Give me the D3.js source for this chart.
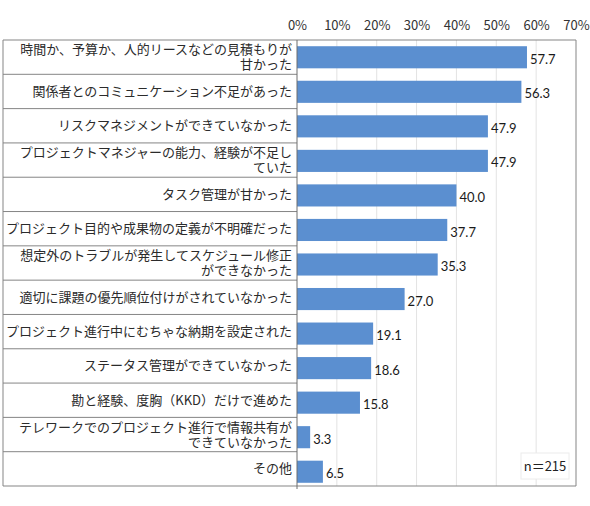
<!DOCTYPE html>
<html>
<head>
<meta charset="utf-8">
<script src="https://cdn.jsdelivr.net/npm/d3@7"></script>
<style>
  body { margin: 0; background: #fff; }
</style>
</head>
<body>
<div id="chart"></div>
<script>
// categories, wrapped the way the original shows them
const categories = [
  ['時間か、予算か、人的リースなどの見積もりが', '甘かった'],
  ['関係者とのコミュニケーション不足があった'],
  ['リスクマネジメントができていなかった'],
  ['プロジェクトマネジャーの能力、経験が不足し', 'ていた'],
  ['タスク管理が甘かった'],
  ['プロジェクト目的や成果物の定義が不明確だった'],
  ['想定外のトラブルが発生してスケジュール修正', 'ができなかった'],
  ['適切に課題の優先順位付けがされていなかった'],
  ['プロジェクト進行中にむちゃな納期を設定された'],
  ['ステータス管理ができていなかった'],
  ['勘と経験、度胸（KKD）だけで進めた'],
  ['テレワークでのプロジェクト進行で情報共有が', 'できていなかった'],
  ['その他']
];
const values = [57.7, 56.3, 47.9, 47.9, 40.0, 37.7, 35.3, 27.0, 19.1, 18.6, 15.8, 3.3, 6.5];
const ticks = [0, 10, 20, 30, 40, 50, 60, 70];
const note = 'n＝215';

const width = 590;
const height = 506;
const plotLeft = 297, plotRight = 576, plotTop = 40;
const jp = '"Noto Sans CJK JP", sans-serif';

const svg = d3.select('#chart')
  .append('svg')
  .attr('width', width)
  .attr('height', height);

const idx = d3.range(categories.length);

const x = d3.scaleLinear().domain([0, 70]).range([plotLeft, plotRight]);
// bars sit in the plot band, the label table is drawn over a slightly shorter band
const y = d3.scaleBand().domain(idx).range([plotTop, 489]).paddingInner(0.36).paddingOuter(0.18);
const rows = d3.scaleBand().domain(idx).range([plotTop, 486]);

// gridlines
svg.append('g')
  .selectAll('line')
  .data(ticks.slice(1, -1))
  .enter()
  .append('line')
  .attr('x1', d => x(d)).attr('x2', d => x(d))
  .attr('y1', plotTop).attr('y2', 486)
  .attr('stroke', '#e3e3e3')
  .attr('stroke-width', 1);

// top axis labels
const axis = d3.axisTop(x).tickValues(ticks).tickFormat(d => d + '%').tickSize(0).tickPadding(0);
const ax = svg.append('g')
  .attr('transform', 'translate(0,30)')
  .call(axis);
ax.select('.domain').remove();
ax.selectAll('text')
  .attr('font-family', jp)
  .attr('font-size', '13px')
  .attr('fill', '#333')
  .attr('dy', '0');

// bars
svg.append('g')
  .selectAll('rect')
  .data(values)
  .enter()
  .append('rect')
  .attr('x', x(0))
  .attr('y', (d, i) => y(i))
  .attr('width', d => x(d) - x(0))
  .attr('height', y.bandwidth())
  .attr('fill', '#5b8fd0');

// value labels
svg.append('g')
  .selectAll('text')
  .data(values)
  .enter()
  .append('text')
  .attr('x', d => x(d) + 3)
  .attr('y', (d, i) => y(i) + y.bandwidth() / 2 + 2)
  .attr('dy', '0.35em')
  .attr('font-family', 'Lato, sans-serif')
  .attr('font-size', '13px')
  .attr('fill', '#1a1a1a')
  .text(d => d.toFixed(1));

// plot frame: right and bottom
svg.append('line')
  .attr('x1', x(70)).attr('x2', x(70))
  .attr('y1', plotTop).attr('y2', 486)
  .attr('stroke', '#858585');
svg.append('line')
  .attr('x1', x(0)).attr('x2', x(70))
  .attr('y1', 486).attr('y2', 486)
  .attr('stroke', '#858585');

// label table
const table = svg.append('g');
table.append('line')
  .attr('x1', 3).attr('x2', x(70))
  .attr('y1', plotTop).attr('y2', plotTop)
  .attr('stroke', '#858585');
table.append('line')
  .attr('x1', 3).attr('x2', 3)
  .attr('y1', plotTop).attr('y2', 486)
  .attr('stroke', '#858585');
table.selectAll('line.sep')
  .data(idx)
  .enter()
  .append('line')
  .attr('class', 'sep')
  .attr('x1', 3).attr('x2', x(0))
  .attr('y1', i => rows(i) + rows.bandwidth())
  .attr('y2', i => rows(i) + rows.bandwidth())
  .attr('stroke', '#858585');

const labels = table.selectAll('text')
  .data(categories)
  .enter()
  .append('text')
  .attr('font-family', jp)
  .attr('font-size', '13px')
  .attr('fill', '#2b2b2b')
  .attr('text-anchor', 'end');
labels.each(function(lines, i) {
  const cy = rows(i) + rows.bandwidth() / 2;
  const lh = 15;
  const y0 = cy - (lines.length - 1) * lh / 2;
  d3.select(this).selectAll('tspan')
    .data(lines)
    .enter()
    .append('tspan')
    .attr('x', 292)
    .attr('y', (l, j) => y0 + j * lh)
    .attr('dy', '0.35em')
    .text(l => l);
});

// y axis line
svg.append('line')
  .attr('x1', x(0)).attr('x2', x(0))
  .attr('y1', plotTop).attr('y2', 489)
  .attr('stroke', '#6f6f6f');

// sample size note
const n = svg.append('g');
n.append('rect')
  .attr('x', 521).attr('y', 453)
  .attr('width', 48).attr('height', 26)
  .attr('fill', '#fff')
  .attr('stroke', '#ececec');
n.append('text')
  .attr('x', 545).attr('y', 466)
  .attr('dy', '0.35em')
  .attr('text-anchor', 'middle')
  .attr('font-family', jp)
  .attr('font-size', '13px')
  .attr('fill', '#222')
  .text(note);
</script>
</body>
</html>
